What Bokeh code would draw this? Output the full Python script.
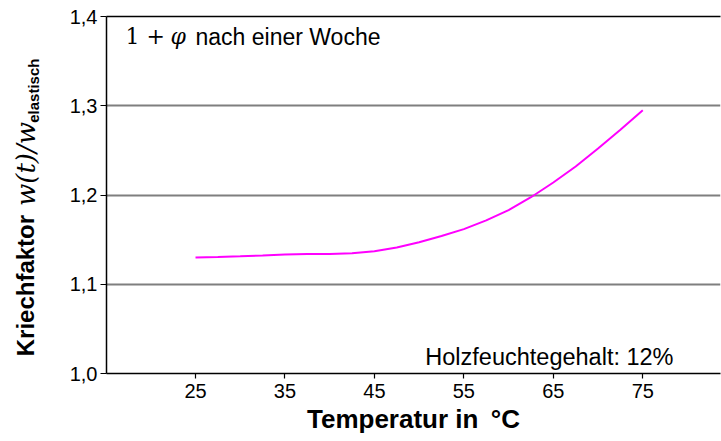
import math
from bokeh.plotting import figure
from bokeh.layouts import row
from bokeh.models import Range1d, FixedTicker, Label, LinearAxis, CustomJSTickFormatter
from bokeh.embed import file_html
from bokeh.resources import INLINE

# ---- data ----
temperature = [25, 27.5, 30, 32.5, 35, 37.5, 40, 42.5, 45, 47.5, 50,
               52.5, 55, 57.5, 60, 62.5, 65, 67.5, 70, 72.5, 75]
creep_factor = [1.1300, 1.1306, 1.1313, 1.1322, 1.1332, 1.1338, 1.1340, 1.1348, 1.1370, 1.1412, 1.1470,
                1.1540, 1.1618, 1.1715, 1.1830, 1.1975, 1.2140, 1.2320, 1.2520, 1.2730, 1.2950]
x_ticks = [25, 35, 45, 55, 65, 75]
y_ticks = [1.0, 1.1, 1.2, 1.3, 1.4]
grid_levels = [1.1, 1.2, 1.3]

TOTAL_W, H = 721, 441
LW = 60                      # width of the strip holding the y-axis title
W = TOTAL_W - LW
X0, X1 = 15.05, 83.69
Y0, Y1 = 1.0, 1.4
FL, FR, FT, FB = 106, 720, 16, 373


def dx(px):
    return X0 + (px - FL) * (X1 - X0) / (FR - FL)


def dy(py):
    return Y0 + (FB - py) * (Y1 - Y0) / (FB - FT)


p = figure(width=W, height=H, output_backend="svg", toolbar_location=None,
           x_range=Range1d(X0, X1), y_range=Range1d(Y0, Y1),
           min_border_left=FL - LW, min_border_right=TOTAL_W - FR,
           min_border_top=FT, min_border_bottom=H - FB)
p.outline_line_color = None
p.background_fill_color = "white"
p.border_fill_color = "white"

TXT = "Liberation Sans"
SERIF = "DejaVu Serif"

for ax in (p.xaxis[0], p.yaxis[0]):
    ax.axis_line_color = "black"
    ax.axis_line_width = 1.5
    ax.major_tick_line_color = "black"
    ax.major_tick_line_width = 1.2
    ax.major_tick_in = 0
    ax.minor_tick_line_color = None
    ax.major_label_text_font = TXT
    ax.major_label_text_font_size = "20px"
    ax.major_label_text_color = "black"

p.xaxis.ticker = FixedTicker(ticks=x_ticks)
p.xaxis.major_tick_out = 5
p.xaxis.major_label_standoff = 5
p.xaxis.axis_label = "Temperatur in \u2009°C"
p.xaxis.axis_label_text_font = TXT
p.xaxis.axis_label_text_font_size = "26px"
p.xaxis.axis_label_text_font_style = "bold"
p.xaxis.axis_label_text_color = "black"
p.xaxis.axis_label_standoff = 3

p.yaxis.ticker = FixedTicker(ticks=y_ticks)
p.yaxis.major_tick_out = 6
p.yaxis.major_label_standoff = 3
p.yaxis.formatter = CustomJSTickFormatter(code="return tick.toFixed(1).replace('.', ',');")

top_axis = LinearAxis(ticker=FixedTicker(ticks=[]), axis_line_color="black", axis_line_width=1.5,
                      major_tick_line_color=None, minor_tick_line_color=None,
                      major_label_text_font_size="0px")
p.add_layout(top_axis, "above")

p.xgrid.grid_line_color = None
p.ygrid.ticker = FixedTicker(ticks=grid_levels)
p.ygrid.grid_line_color = "#7f7f7f"
p.ygrid.grid_line_width = 2

p.line(temperature, creep_factor, line_color="#ff00ff", line_width=2)


def lab(fig, text, x, y, font=TXT, size="23px", style="normal", align="left", angle=0):
    fig.add_layout(Label(x=x, y=y, text=text, text_font=font, text_font_size=size,
                         text_font_style=style, text_align=align, text_baseline="alphabetic",
                         angle=angle, text_color="black"))


lab(p, "1 + ", dx(125), dy(36), font=SERIF, size="22px")
lab(p, "φ", dx(170), dy(36), font=SERIF, size="22px", style="italic")
lab(p, "nach einer Woche", dx(195), dy(36))
lab(p, "Holzfeuchtegehalt: 12%", dx(673), dy(356), size="23.5px", align="right")

# strip for the y-axis title; its frame spans page y 0..373, data = 441 - page y
q = figure(width=LW, height=H, output_backend="svg", toolbar_location=None,
           x_range=Range1d(0, LW), y_range=Range1d(H - FB, H),
           x_axis_type=None, y_axis_type=None,
           min_border_left=0, min_border_right=0, min_border_top=0, min_border_bottom=H - FB)
q.outline_line_color = None
q.grid.visible = False
q.background_fill_color = "white"
q.border_fill_color = "white"
A = math.pi / 2
lab(q, "Kriechfaktor", 25, H - 355, size="24px", style="bold", angle=A)
lab(q, "w(t)/w", 25, H - 198, font=SERIF, size="26px", style="italic", angle=A)
lab(q, "elastisch", 33, H - 111, size="15px", style="bold", angle=A)

layout = row(q, p, spacing=0)
open("out.html", "w").write(file_html(layout, INLINE))
